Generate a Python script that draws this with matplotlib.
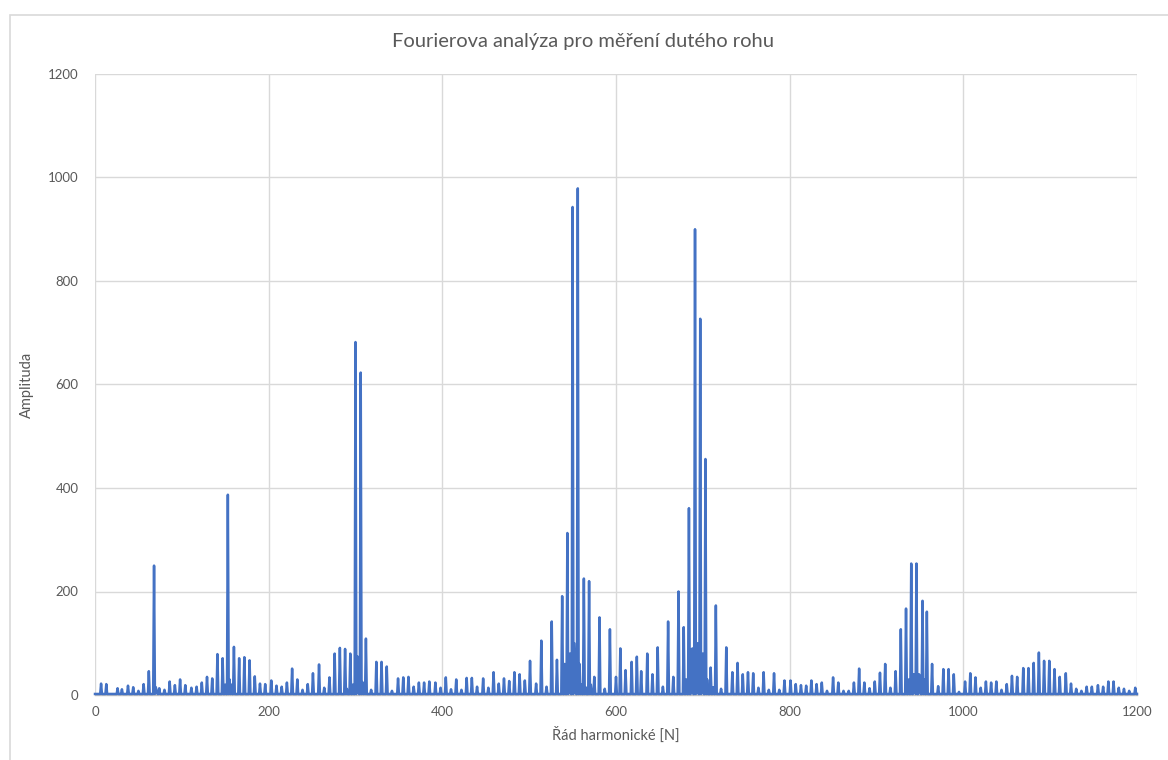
import numpy as np
import matplotlib
matplotlib.use("Agg")
import matplotlib.pyplot as plt
from matplotlib.patches import Rectangle

plt.rcParams["font.family"] = ["Lato", "DejaVu Sans"]

# ── Data ───────────────────────────────────────────────────────────────────────

N_MAX = 1200
FLOOR = 2.0   # residual amplitude between harmonics

# harmonic order and amplitude of each spike
SPIKE_N = [
    7, 13, 26, 31, 38, 44, 50, 56, 62, 68, 74, 80, 86, 92, 98, 104, 111, 117,
    123, 129, 135, 141, 147, 153, 160, 166, 172, 178, 184, 190, 196, 203, 209,
    215, 221, 227, 233, 239, 245, 251, 258, 264, 270, 276, 282, 288, 294, 300,
    306, 312, 318, 324, 330, 336, 342, 349, 355, 361, 367, 373, 379, 385, 392,
    398, 404, 410, 416, 422, 428, 434, 440, 447, 453, 459, 465, 471, 477, 483,
    489, 495, 501, 508, 514, 520, 526, 532, 538, 544, 550, 556, 563, 569, 575,
    581, 587, 593, 600, 605, 611, 618, 624, 629, 636, 642, 648, 654, 660, 666,
    672, 678, 684, 691, 697, 703, 709, 715, 721, 727, 734, 740, 746, 752, 758,
    764, 770, 776, 782, 788, 794, 801, 807, 813, 819, 825, 831, 837, 843, 850,
    856, 862, 868, 874, 880, 886, 892, 898, 904, 910, 916, 922, 928, 934, 940,
    946, 953, 958, 964, 971, 977, 983, 989, 995, 1002, 1008, 1014, 1020, 1026,
    1032, 1038, 1044, 1050, 1056, 1062, 1069, 1075, 1081, 1087, 1093, 1099,
    1105, 1111, 1118, 1124, 1130, 1136, 1142, 1148, 1155, 1161, 1167, 1173,
    1179, 1185, 1191, 1198,
]
SPIKE_AMP = [
    22, 21, 13, 11, 18, 15, 8, 21, 46, 250, 13, 10, 26, 19, 30, 19, 14, 16,
    24, 35, 32, 79, 71, 387, 93, 71, 73, 67, 36, 22, 21, 28, 18,
    16, 24, 51, 30, 10, 21, 42, 59, 14, 34, 80, 91, 89, 80, 682,
    623, 109, 10, 64, 64, 55, 8, 32, 34, 35, 16, 24, 24, 26, 24,
    14, 34, 11, 30, 10, 33, 33, 16, 32, 14, 44, 22, 32, 27, 44,
    40, 28, 66, 22, 105, 16, 142, 68, 191, 313, 943, 979, 225, 220, 35,
    150, 12, 127, 35, 90, 48, 64, 74, 46, 80, 40, 92, 16, 142, 35,
    200, 131, 361, 900, 727, 456, 53, 173, 12, 92, 44, 62, 40, 44, 42,
    14, 44, 10, 42, 10, 28, 28, 21, 19, 18, 28, 21, 24, 8, 34,
    24, 8, 8, 24, 51, 24, 13, 26, 43, 60, 14, 46, 127, 167, 254,
    254, 182, 161, 60, 17, 50, 50, 40, 6, 26, 42, 34, 14, 26,
    24, 26, 10, 21, 37, 35, 52, 52, 62, 82, 66, 66,
    50, 35, 42, 22, 12, 8, 16, 16, 19, 16, 26, 26,
    14, 12, 8, 14,
]

# leakage between neighbouring harmonics around the strong groups
SIDE_N = [
    70, 71, 150, 155, 157, 290, 297, 302, 303, 308, 310,
    541, 546, 547, 552, 553, 558, 560, 565, 571,
    681, 687, 688, 693, 694, 699, 700, 705, 712,
    937, 943, 944, 949, 950, 955,
]
SIDE_AMP = [
    15, 8, 20, 30, 20, 12, 20, 75, 70, 25, 15,
    60, 70, 80, 100, 50, 60, 20, 15, 20,
    30, 88, 90, 60, 100, 50, 80, 30, 15,
    30, 40, 30, 40, 25, 30,
]

X_TICKS = [0, 200, 400, 600, 800, 1000, 1200]
Y_TICKS = [0, 200, 400, 600, 800, 1000, 1200]

TITLE  = "Fourierova analýza pro měření dutého rohu"
XLABEL = "Řád harmonické [N]"
YLABEL = "Amplituda"

LINE_C = "#4472C4"
GRID_C = "#D9D9D9"
TEXT_C = "#595959"

# ── Plot ───────────────────────────────────────────────────────────────────────

def build_spectrum():
    order = np.arange(N_MAX + 1)
    amp = np.full(N_MAX + 1, FLOOR)
    amp[SIDE_N] = SIDE_AMP
    amp[SPIKE_N] = SPIKE_AMP
    return order, amp


def main():
    order, amp = build_spectrum()

    fig = plt.figure(figsize=(11.68, 7.60), dpi=100)
    ax = fig.add_axes([95 / 1168, 1 - 695 / 760, 1042 / 1168, 621 / 760])

    # chart frame
    fig.patches.append(Rectangle((10 / 1168, -0.05), 1.2, 1 - 15 / 760 + 0.05,
                                 transform=fig.transFigure, fill=False,
                                 edgecolor="#D9D9D9", lw=1.2))

    ax.plot(order, amp, color=LINE_C, lw=1.8, solid_joinstyle="round",
            clip_on=False, zorder=5)

    ax.set_xlim(0, 1200)
    ax.set_ylim(0, 1200)
    ax.set_xticks(X_TICKS)
    ax.set_yticks(Y_TICKS)
    ax.grid(True, color=GRID_C, lw=1.0)
    ax.set_axisbelow(True)

    for side in ("top", "right", "left"):
        ax.spines[side].set_visible(False)
    ax.spines["bottom"].set_color("#BFBFBF")
    ax.spines["bottom"].set_linewidth(1.0)
    ax.spines["bottom"].set_zorder(4)

    ax.tick_params(length=0, labelsize=9.5, labelcolor=TEXT_C, pad=8)
    ax.tick_params(axis="y", pad=12)

    ax.set_xlabel(XLABEL, fontsize=10.5, color=TEXT_C, labelpad=6)
    ax.set_ylabel(YLABEL, fontsize=10.5, color=TEXT_C, labelpad=10)
    fig.text(583 / 1168, 1 - 42 / 760, TITLE, fontsize=14.5, color=TEXT_C,
             ha="center", va="center")

    fig.savefig("out.png", dpi=100, facecolor="white")
    plt.close(fig)


if __name__ == "__main__":
    main()
